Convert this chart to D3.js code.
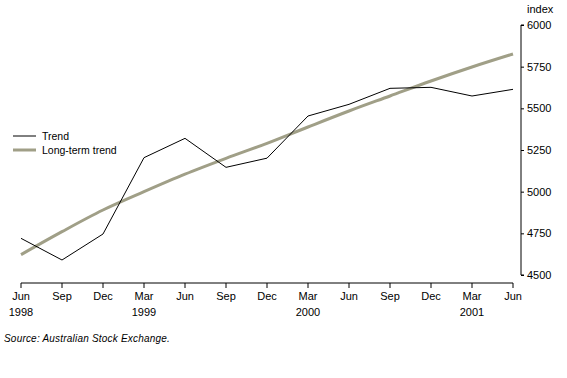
<!DOCTYPE html>
<html>
<head>
<meta charset="utf-8">
<script src="https://cdn.jsdelivr.net/npm/d3@7"></script>
<style>
  body { margin: 0; background: #fff; }
  svg { display: block; font-family: "Liberation Sans", Arial, sans-serif; }
</style>
</head>
<body>
<div id="chart"></div>
<script>
// Quarterly labels, Jun 1998 to Jun 2001
const quarters = ['Jun', 'Sep', 'Dec', 'Mar', 'Jun', 'Sep', 'Dec', 'Mar', 'Jun', 'Sep', 'Dec', 'Mar', 'Jun'];
const yearLabels = ['1998', '', '', '1999', '', '', '', '2000', '', '', '', '2001', ''];

const trend = [4720, 4590, 4746, 5204, 5320, 5146, 5201, 5454, 5524, 5620, 5626, 5574, 5614];
const longTermTrend = [4622, 4760, 4890, 5000, 5105, 5200, 5290, 5388, 5484, 5574, 5664, 5748, 5826];

const yTicks = [4500, 4750, 5000, 5250, 5500, 5750, 6000];

const width = 567, height = 378;

const svg = d3.select('#chart')
  .append('svg')
  .attr('width', width)
  .attr('height', height);

// Scales
const x = d3.scalePoint()
  .domain(d3.range(quarters.length))
  .range([21, 513]);

const y = d3.scaleLinear()
  .domain([4500, 6000])
  .range([275, 25]);

const axisY = 283;

// x axis: line with ticks hanging down
svg.append('line')
  .attr('x1', x(0)).attr('x2', x(quarters.length - 1))
  .attr('y1', axisY).attr('y2', axisY)
  .attr('stroke', '#000').attr('stroke-width', 1);

svg.selectAll('.xtick')
  .data(quarters)
  .enter()
  .append('line')
  .attr('class', 'xtick')
  .attr('x1', (d, i) => x(i)).attr('x2', (d, i) => x(i))
  .attr('y1', axisY).attr('y2', axisY + 5)
  .attr('stroke', '#000');

svg.selectAll('.qlabel')
  .data(quarters)
  .enter()
  .append('text')
  .attr('class', 'qlabel')
  .attr('x', (d, i) => x(i))
  .attr('y', 300)
  .attr('text-anchor', 'middle')
  .style('font-size', '11px')
  .text(d => d);

svg.selectAll('.ylabel')
  .data(yearLabels)
  .enter()
  .append('text')
  .attr('class', 'ylabel')
  .attr('x', (d, i) => x(i))
  .attr('y', 316)
  .attr('text-anchor', 'middle')
  .style('font-size', '11px')
  .text(d => d);

// y axis on the right
const yAxis = svg.append('g')
  .attr('transform', 'translate(521,0)')
  .call(d3.axisRight(y).tickValues(yTicks).tickSize(3).tickPadding(3).tickFormat(d3.format('d')));
yAxis.select('.domain').attr('d', `M3,${y(6000)}H0V${y(4500)}H3`);
yAxis.selectAll('text').style('font-size', '11px').style('font-family', '"Liberation Sans", Arial, sans-serif');

svg.append('text')
  .attr('x', 527)
  .attr('y', 13)
  .style('font-size', '11px')
  .text('index');

// Lines
const line = d3.line()
  .x((d, i) => x(i))
  .y(d => y(d));

svg.append('path')
  .datum(longTermTrend)
  .attr('fill', 'none')
  .attr('stroke', '#a09f87')
  .attr('stroke-width', 3)
  .attr('d', line.curve(d3.curveMonotoneX));

svg.append('path')
  .datum(trend)
  .attr('fill', 'none')
  .attr('stroke', '#000')
  .attr('stroke-width', 1)
  .attr('d', line.curve(d3.curveLinear));

// Legend
const legend = [
  { label: 'Trend', color: '#000', w: 1 },
  { label: 'Long-term trend', color: '#a09f87', w: 3 }
];
legend.forEach((d, i) => {
  const ly = 136 + i * 14;
  svg.append('line')
    .attr('x1', 13).attr('x2', 36)
    .attr('y1', ly).attr('y2', ly)
    .attr('stroke', d.color).attr('stroke-width', d.w);
  svg.append('text')
    .attr('x', 42).attr('y', ly + 4)
    .style('font-size', '10.5px')
    .text(d.label);
});

// Source note
svg.append('text')
  .attr('x', 4)
  .attr('y', 342)
  .style('font-size', '10px')
  .style('font-style', 'italic')
  .style('letter-spacing', '0.2px')
  .text('Source: Australian Stock Exchange.');
</script>
</body>
</html>
